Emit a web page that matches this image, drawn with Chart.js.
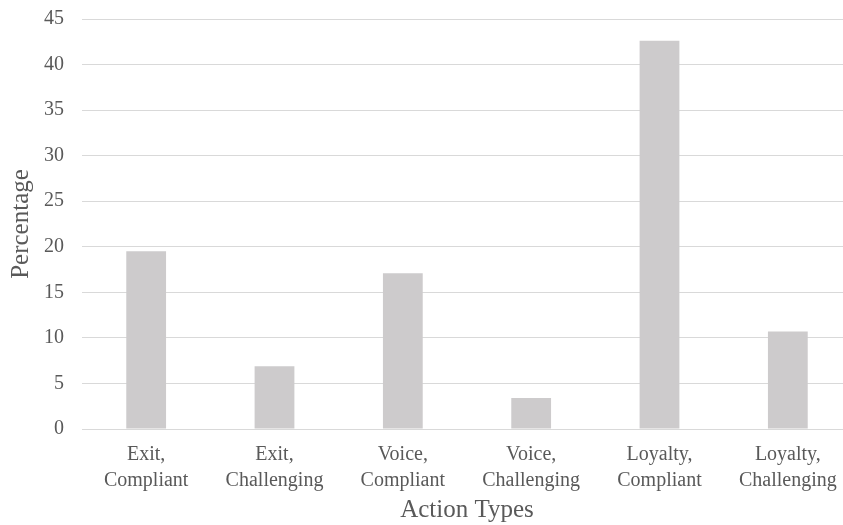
<!DOCTYPE html>
<html>
<head>
<meta charset="utf-8">
<script src="https://cdn.jsdelivr.net/npm/chart.js@4"></script>
<style>
  html, body { margin: 0; padding: 0; background: #ffffff; overflow: hidden; }
  #wrap { width: 852px; height: 525px; }
</style>
</head>
<body>
<div id="wrap"><canvas id="chart" width="852" height="525"></canvas></div>
<script>
// Share of each action type (percent)
const categories = [
  ['Exit,', 'Compliant'],
  ['Exit,', 'Challenging'],
  ['Voice,', 'Compliant'],
  ['Voice,', 'Challenging'],
  ['Loyalty,', 'Compliant'],
  ['Loyalty,', 'Challenging']
];
const percentages = [19.5, 6.9, 17.1, 3.4, 42.6, 10.7];
const yTicks = [0, 5, 10, 15, 20, 25, 30, 35, 40, 45];

const serif = 'Liberation Serif, "Times New Roman", serif';
const textColor = '#595959';
const gridColor = '#d9d9d9';

new Chart(document.getElementById('chart'), {
  type: 'bar',
  data: {
    labels: categories,
    datasets: [{
      data: percentages,
      backgroundColor: '#cdcbcc',
      borderWidth: 0,
      barPercentage: 0.62,
      categoryPercentage: 0.5
    }]
  },
  options: {
    responsive: false,
    animation: false,
    layout: { padding: { top: 19, right: 0, bottom: 0, left: 0 } },
    plugins: {
      legend: { display: false },
      tooltip: { enabled: false }
    },
    scales: {
      x: {
        grid: { display: false },
        border: { color: gridColor, width: 1 },
        ticks: {
          color: textColor,
          font: { family: serif, size: 20, lineHeight: 1.3 },
          maxRotation: 0,
          autoSkip: false,
          padding: 5
        },
        title: {
          display: true,
          text: 'Action Types',
          color: textColor,
          font: { family: serif, size: 25 },
          padding: { top: 0, bottom: 0 }
        },
        afterFit(scale) { scale.height = 96; scale.paddingLeft = 0; scale.paddingRight = 0; }
      },
      y: {
        min: 0,
        max: 45,
        afterBuildTicks(scale) { scale.ticks = yTicks.map(v => ({ value: v })); },
        grid: { color: gridColor, lineWidth: 1, drawTicks: false },
        border: { display: false },
        ticks: {
          color: textColor,
          font: { family: serif, size: 20 },
          padding: 18
        },
        title: {
          display: true,
          text: 'Percentage',
          color: textColor,
          font: { family: serif, size: 25 },
          padding: { top: 6, bottom: 0 }
        },
        afterFit(scale) { scale.width = 82; scale.paddingTop = 0; scale.paddingBottom = 0; }
      }
    }
  }
});
</script>
</body>
</html>
